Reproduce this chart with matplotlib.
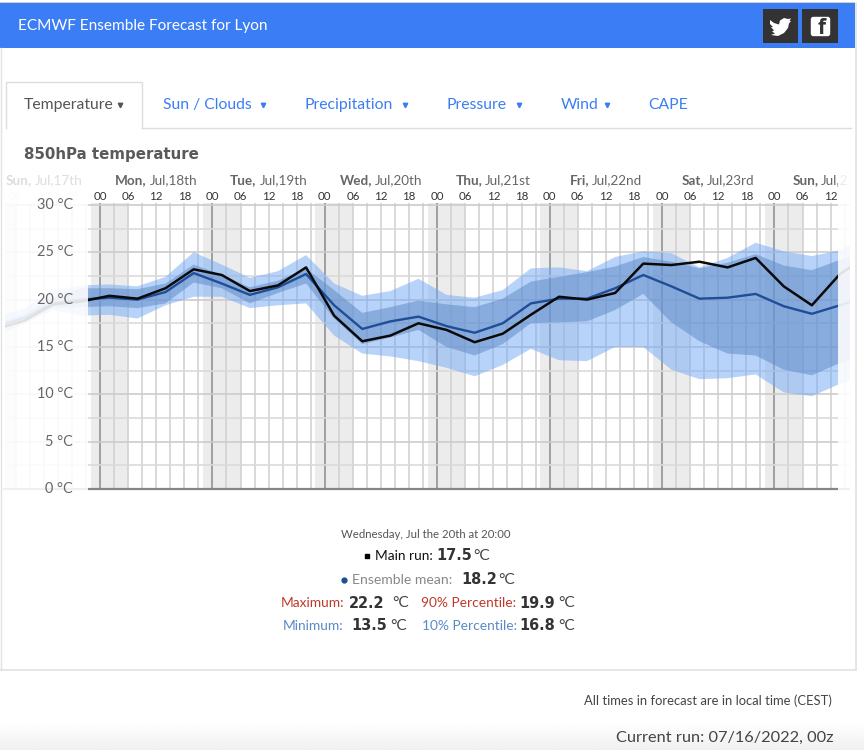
import numpy as np
import matplotlib
matplotlib.use('Agg')
import matplotlib.pyplot as plt
from matplotlib.patches import Rectangle, FancyBboxPatch, Polygon

plt.rcParams['font.family'] = ['Lato', 'DejaVu Sans']

# hours after Monday Jul 18th 00:00 local time
hours = [-22, -16, -10, -4, 2, 8, 14, 20, 26, 32, 38, 44, 50, 56, 62, 68,
         74, 80, 86, 92, 98, 104, 110, 116, 122, 128, 134, 140, 146, 152, 158, 164]
main_run = [16.9, 17.8, 19.5, 19.8, 20.4, 20.1, 21.2, 23.2, 22.6, 20.9, 21.5, 23.4, 18.3, 15.6, 16.2, 17.5,
            16.8, 15.5, 16.4, 18.4, 20.3, 20.0, 20.7, 23.8, 23.65, 24.0, 23.4, 24.4, 21.4, 19.4, 22.7, 24.6]
ens_mean = [17.2, 18.1, 19.6, 20.0, 20.2, 20.0, 20.8, 22.8, 21.7, 20.5, 21.3, 22.7, 19.4, 16.9, 17.7, 18.2,
            17.2, 16.5, 17.5, 19.6, 20.1, 20.1, 21.2, 22.6, 21.4, 20.1, 20.2, 20.6, 19.3, 18.5, 19.4, 20.4]
p90 = [17.5, 18.5, 20.2, 21.2, 21.2, 21.1, 21.7, 23.7, 22.6, 21.3, 22.0, 23.3, 21.0, 18.6, 19.2, 19.9,
       19.5, 19.2, 20.1, 21.9, 22.4, 22.9, 23.5, 24.5, 24.0, 23.3, 23.9, 24.8, 23.6, 23.1, 24.2, 25.0]
p10 = [16.7, 17.8, 19.2, 19.2, 19.3, 19.1, 19.6, 21.8, 21.2, 19.6, 20.7, 21.7, 18.0, 15.3, 16.0, 16.8,
       15.0, 14.1, 15.3, 17.5, 17.6, 17.7, 18.9, 20.6, 17.6, 15.6, 14.3, 14.1, 12.6, 12.0, 13.3, 14.0]
ens_max = [18.2, 19.1, 21.0, 21.5, 21.6, 21.4, 22.4, 25.0, 23.7, 22.3, 23.0, 24.7, 21.7, 20.4, 20.9, 22.2,
           20.5, 20.2, 21.0, 23.3, 23.4, 23.0, 24.5, 25.1, 24.9, 23.4, 24.4, 26.0, 25.1, 24.6, 25.2, 26.7]
ens_min = [16.2, 17.5, 18.9, 18.3, 18.4, 18.0, 19.4, 20.3, 20.3, 19.1, 19.4, 19.6, 16.2, 14.3, 14.0, 13.5,
           12.8, 11.9, 13.1, 14.8, 13.6, 13.5, 15.0, 15.0, 12.6, 11.6, 11.7, 12.1, 10.2, 9.8, 11.1, 12.0]

day_names = ['Sun,', 'Mon,', 'Tue,', 'Wed,', 'Thu,', 'Fri,', 'Sat,', 'Sun,']
day_dates = ['Jul,17th', 'Jul,18th', 'Jul,19th', 'Jul,20th', 'Jul,21st', 'Jul,22nd', 'Jul,23rd', 'Jul,24th']
temp_ticks = [0, 5, 10, 15, 20, 25, 30]

W, H = 864, 750
px_per_hour = 112.4 / 24
x0 = 100  # pixel of Monday 00:00


def to_px(h):
    return x0 + h * px_per_hour


def fs(px):
    return px * 0.72


fig = plt.figure(figsize=(W / 100, H / 100), dpi=100)

# chart
ax = fig.add_axes([5 / W, 1 - 489 / H, 845 / W, 286 / H], zorder=1)
ax.patch.set_visible(False)
ax.set_xlim((5 - x0) / px_per_hour, (850 - x0) / px_per_hour)
ax.set_ylim(0, 286 / 9.47)
ax.axis('off')

for d in range(-1, 7):
    ax.axvspan(24 * d - 2, 24 * d + 6, color='#ececec', lw=0, zorder=1)
for h in range(-24, 162, 3):
    if h % 24 == 0:
        ax.axvline(h, color='#999999', lw=1.3, zorder=2)
    else:
        ax.axvline(h, color='#d2d2d2', lw=1.2, zorder=2)
for t in np.arange(2.5, 30.1, 2.5):
    ax.axhline(t, color='#cccccc' if t % 5 == 0 else '#dadada', lw=1.2, zorder=2)
ax.axhline(0, color='#858585', lw=1.6, zorder=3, clip_on=False)

ax.fill_between(hours, ens_min, ens_max, color='#71a9f7', alpha=0.5, lw=0, zorder=4)
ax.fill_between(hours, p10, p90, color='#648cc8', alpha=0.55, lw=0, zorder=5)
ax.plot(hours, ens_mean, color='#1f4e96', lw=1.7, zorder=6)
ax.plot(hours, main_run, color='#0a0a0a', lw=1.8, zorder=7)

# page elements in pixel coordinates, above the chart
pg = fig.add_axes([0, 0, 1, 1], zorder=2)
pg.patch.set_visible(False)
pg.axis('off')
grad = np.linspace(1, 0.94, 30).reshape(-1, 1)
pg.imshow(grad, extent=[0, W, H, 722], cmap='gray', vmin=0, vmax=1, aspect='auto', zorder=0)
pg.set_xlim(0, W)
pg.set_ylim(H, 0)

# faded parts of the chart outside the forecast window
pg.add_patch(Rectangle((4, 170), 84, 322, fc='white', alpha=0.88, lw=0, zorder=2))
pg.add_patch(Rectangle((838, 170), 13, 322, fc='white', alpha=0.88, lw=0, zorder=2))
pg.add_patch(Rectangle((850, 165), 5, 330, fc='white', lw=0, zorder=3))


def txt(x, y, s, size, color='#555555', ha='left', weight='normal', family=None, z=5):
    kw = {}
    if family:
        kw['family'] = family
    return pg.text(x, y, s, fontsize=fs(size), color=color, ha=ha, va='center',
                   fontweight=weight, zorder=z, **kw)


# header
pg.add_patch(Rectangle((0, 2), 855, 1.2, fc='#cfcfcf', lw=0))
pg.add_patch(Rectangle((0, 3), 855, 45, fc='#3b7df5', lw=0))
txt(18, 26, 'ECMWF Ensemble Forecast for Lyon', 15.4, color='white')
pg.add_patch(Rectangle((763, 9), 35, 34, fc='#333333', lw=0, zorder=3))
pg.add_patch(Rectangle((802, 9), 36, 34, fc='#333333', lw=0, zorder=3))
bird = [(770, 20), (774, 23), (779, 24.5), (780, 20.5), (784, 18), (788, 19), (791, 18.5), (789.5, 21),
        (791, 21), (789, 23.5), (788, 28), (784, 33), (778, 36), (771, 35), (775, 33.5), (772, 31.5),
        (774, 30.5), (771, 27), (773, 27), (770, 24)]
pg.add_patch(Polygon(bird, closed=True, fc='white', lw=0, zorder=4))
pg.add_patch(FancyBboxPatch((812, 18), 17, 17, boxstyle='round,pad=1.2,rounding_size=2.5', fc='white', lw=0, zorder=4))
txt(822, 28, 'f', 21, color='#333333', ha='center', weight='bold', family='Open Sans')

# panel outline
pg.plot([0.5, 0.5], [48, 670], color='#e2e2e2', lw=1, zorder=1)
pg.plot([855.5, 855.5], [3, 670], color='#e2e2e2', lw=1.2, zorder=4)
pg.plot([0, 855.5], [670, 670], color='#e2e2e2', lw=1.2, zorder=1)

# tabs
pg.plot([6, 6, 142, 142], [128, 82, 82, 128], color='#dddddd', lw=1, zorder=2)
pg.plot([142, 851], [127.5, 127.5], color='#dddddd', lw=1, zorder=2)
txt(24, 105, 'Temperature', 15.7, color='#555555')
pg.plot([120], [105], marker='v', ms=3.2, color='#555555', zorder=5)
tab_names = ['Sun / Clouds', 'Precipitation', 'Pressure', 'Wind', 'CAPE']
tab_x = [163, 304, 447, 561, 648]
caret_x = [263, 405, 519, 607, None]
for name, tx, cx in zip(tab_names, tab_x, caret_x):
    txt(tx, 105, name, 15.7, color='#3b7df5')
    if cx:
        pg.plot([cx], [105], marker='v', ms=3.2, color='#3b7df5', zorder=5)

txt(24, 154, '850hPa temperature', 15, color='#5a5a5a', weight='bold', family='DejaVu Sans')

# day and hour labels of the time axis
renderer = fig.canvas.get_renderer()
for i, (nm, dt) in enumerate(zip(day_names, day_dates)):
    c = '#dddddd' if i == 0 else '#666666'
    cx = to_px(24 * (i - 1) + 12)
    a = txt(0, 180, nm, 13.5, color=c, weight='bold', z=1.5 if i == 7 else 5)
    b = txt(0, 180, dt, 13.5, color=c, z=1.5 if i == 7 else 5)
    wa = a.get_window_extent(renderer).width
    wb = b.get_window_extent(renderer).width
    left = cx - (wa + 3 + wb) / 2
    a.set_x(left)
    b.set_x(left + wa + 3)
    if i == 7:
        b.set_text(dt[:5])  # the last date runs off the chart after this
for h in range(-18, 157, 6):
    px = to_px(h)
    c = '#dddddd' if h < 0 else '#333333'
    txt(px, 197, '%02d' % (h % 24), 11.5, color=c, ha='center', z=1.5 if h < 0 else 5)

for t in temp_ticks:
    txt(73, 489 - t * 9.47, '%d °C' % t, 14.5, color='#666666', ha='right')

# tooltip
val_font = 'DejaVu Sans'
val_col = '#333333'
deg = 15.5
txt(425.5, 535, 'Wednesday, Jul the 20th at 20:00', 11.4, color='#555555', ha='center')

pg.plot([367], [556], marker='s', ms=3, color='black', zorder=5)
txt(375, 556, 'Main run:', 13.7, color='#111111')
txt(436, 556, '17.5', 14.5, color=val_col, weight='bold', family=val_font)
txt(473, 556, '°C', deg, color='#444444')

pg.plot([344], [580], marker='o', ms=3.5, color='#1f4e96', zorder=5)
txt(352, 580, 'Ensemble mean:', 14, color='#888888')
txt(461, 580, '18.2', 14.5, color=val_col, weight='bold', family=val_font)
txt(498, 580, '°C', deg, color='#444444')

red = '#c0392b'
blue = '#5a8ac6'
txt(281, 603, 'Maximum:', 13.7, color=red)
txt(349, 603, '22.2', 14.5, color=val_col, weight='bold', family=val_font)
txt(392, 603, '°C', deg, color='#444444')
txt(421, 603, '90% Percentile:', 13.7, color=red)
txt(519, 603, '19.9', 14.5, color=val_col, weight='bold', family=val_font)
txt(558, 603, '°C', deg, color='#444444')

txt(283, 626, 'Minimum:', 13.7, color=blue)
txt(351, 626, '13.5', 14.5, color=val_col, weight='bold', family=val_font)
txt(390, 626, '°C', deg, color='#444444')
txt(422, 626, '10% Percentile:', 13.7, color=blue)
txt(519, 626, '16.8', 14.5, color=val_col, weight='bold', family=val_font)
txt(558, 626, '°C', deg, color='#444444')

# footer
txt(832, 701, 'All times in forecast are in local time (CEST)', 13, color='#444444', ha='right')
txt(833, 738, 'Current run: 07/16/2022, 00z', 16.4, color='#444444', ha='right')

fig.savefig('out.png', dpi=100, facecolor='white')
